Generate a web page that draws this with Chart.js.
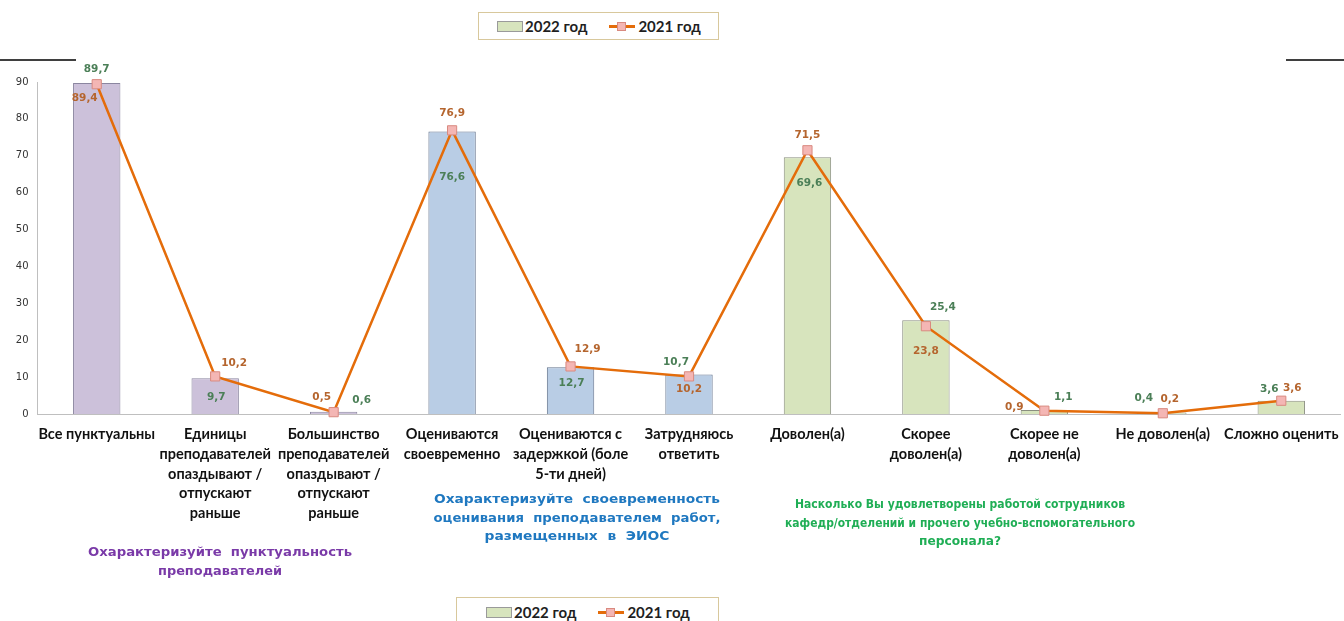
<!DOCTYPE html>
<html>
<head>
<meta charset="utf-8">
<script src="https://cdn.jsdelivr.net/npm/chart.js@4/dist/chart.umd.min.js"></script>
<style>
  html, body { margin: 0; padding: 0; background: #fff; overflow: hidden; }
  #wrap { position: relative; width: 1348px; height: 621px; }
  .legend {
    position: absolute; height: 28px; border: 1px solid #d8c89c; background: #fff;
    font: bold 15px Lato, "Open Sans", sans-serif; color: #1f1f1f;
    display: flex; align-items: center; box-sizing: border-box;
  }
  .sw { display: inline-block; width: 26px; height: 11px; background: #d7e4bd; border: 1px solid #9a9a9a; box-sizing: border-box; margin-right: 2px; }
  .ln { display: inline-block; position: relative; width: 26px; height: 11px; margin: 0 3px 0 22px; }
  .ln:before { content: ""; position: absolute; left: 0; right: 0; top: 4px; height: 3px; background: #e46c0a; }
  .ln:after { content: ""; position: absolute; left: 8px; top: 1px; width: 9px; height: 9px; background: #f4b6b4; border: 1px solid #d98a80; box-sizing: border-box; }
</style>
</head>
<body>
<div id="wrap">
  <canvas id="chart" width="1348" height="621"></canvas>
  <div class="legend" style="left:478px; top:12px; width:241px; padding-left:18px;">
    <span class="sw"></span>2022 год<span class="ln"></span>2021 год
  </div>
  <div class="legend" style="left:456px; top:597px; width:263px; height:30px; padding-left:29px;">
    <span class="sw"></span>2022 год<span class="ln"></span>2021 год
  </div>
</div>
<script>
const categories = [
    'Все пунктуальны',
    ['Единицы', 'преподавателей', 'опаздывают /', 'отпускают', 'раньше'],
    ['Большинство', 'преподавателей', 'опаздывают /', 'отпускают', 'раньше'],
    ['Оцениваются', 'своевременно'],
    ['Оцениваются с', 'задержкой (боле', '5-ти дней)'],
    ['Затрудняюсь', 'ответить'],
    'Доволен(а)',
    ['Скорее', 'доволен(а)'],
    ['Скорее не', 'доволен(а)'],
    'Не доволен(а)',
    'Сложно оценить'
];
const values2022 = [89.7, 9.7, 0.6, 76.6, 12.7, 10.7, 69.6, 25.4, 1.1, 0.4, 3.6];
const values2021 = [89.4, 10.2, 0.5, 76.9, 12.9, 10.2, 71.5, 23.8, 0.9, 0.2, 3.6];
const yTicks = [0, 10, 20, 30, 40, 50, 60, 70, 80, 90];

// group captions under the axis; w = width of each line in px
const groupTitles = [
    { lines: ['Охарактеризуйте  пунктуальность', 'преподавателей'], w: [264, 124], color: '#7a3aa8', x: 220, y: 553 },
    { lines: ['Охарактеризуйте  своевременность', 'оценивания  преподавателем  работ,', 'размещенных  в  ЭИОС'], w: [286, 287, 185], color: '#1f78c0', x: 577, y: 500 },
    { lines: ['Насколько Вы удовлетворены работой сотрудников', 'кафедр/отделений и прочего учебно-вспомогательного', 'персонала?'], w: [330, 350, 82], color: '#1fae55', x: 960, y: 505 }
];

// label offsets (px) relative to bar top / point
const barLabelOffsets = [[0, -14], [1, 19], [28, -12], [0, 46], [1, 16], [-13, -12], [2, 26], [17, -13], [19, -13], [-19, -14], [-12, -11]];
const lineLabelOffsets = [[-12, 14], [19, -13], [-12, -15], [0, -17], [17, -17], [0, 13], [0, -15], [0, 25], [-30, -3], [7, -14], [11, -12]];

const barFill = ['#ccc1da', '#ccc1da', '#ccc1da', '#b9cde5', '#b9cde5', '#b9cde5', '#d7e4bd', '#d7e4bd', '#d7e4bd', '#d7e4bd', '#d7e4bd'];
const barBorder = ['#8b86a0', '#8b86a0', '#8b86a0', '#66768f', '#66768f', '#66768f', '#8a8f80', '#8a8f80', '#8a8f80', '#8a8f80', '#8a8f80'];

const fmt = v => String(v).replace('.', ',');

const labelPlugin = {
    id: 'labels',
    afterDatasetsDraw(chart) {
        const ctx = chart.ctx;
        ctx.save();
        ctx.font = 'bold 10.5px "DejaVu Sans", Verdana, sans-serif';
        ctx.textAlign = 'center';
        ctx.textBaseline = 'middle';
        const bars = chart.getDatasetMeta(0).data;
        const pts = chart.getDatasetMeta(1).data;
        bars.forEach((el, i) => {
            ctx.fillStyle = '#4b7f57';
            ctx.fillText(fmt(values2022[i]), el.x + barLabelOffsets[i][0], el.y + barLabelOffsets[i][1]);
        });
        pts.forEach((el, i) => {
            ctx.fillStyle = '#b5652e';
            ctx.fillText(fmt(values2021[i]), el.x + lineLabelOffsets[i][0], el.y + lineLabelOffsets[i][1]);
        });
        ctx.restore();
    },
    afterDraw(chart) {
        const ctx = chart.ctx;
        ctx.save();
        ctx.strokeStyle = '#000';
        ctx.lineWidth = 1.5;
        ctx.beginPath();
        ctx.moveTo(0, 60); ctx.lineTo(76, 60);
        ctx.moveTo(1286, 60); ctx.lineTo(1348, 60);
        ctx.stroke();
        ctx.font = 'bold 12.5px "DejaVu Sans", Verdana, sans-serif';
        ctx.textAlign = 'center';
        ctx.textBaseline = 'middle';
        groupTitles.forEach(t => {
            ctx.fillStyle = t.color;
            t.lines.forEach((l, k) => {
                const sx = t.w[k] / ctx.measureText(l).width;
                ctx.save();
                ctx.translate(t.x, t.y + k * 18.5);
                ctx.scale(sx, 1);
                ctx.fillText(l, 0, 0);
                ctx.restore();
            });
        });
        ctx.restore();
    }
};

new Chart(document.getElementById('chart'), {
    type: 'bar',
    data: {
        labels: categories,
        datasets: [{
            type: 'bar',
            label: '2022 год',
            data: values2022,
            backgroundColor: barFill,
            borderColor: barBorder,
            borderWidth: 1,
            barPercentage: 0.4,
            categoryPercentage: 1,
            order: 1
        }, {
            type: 'line',
            label: '2021 год',
            data: values2021,
            borderColor: '#e46c0a',
            borderWidth: 2.5,
            pointStyle: 'rect',
            pointRadius: 6.5,
            pointBackgroundColor: '#f4b6b4',
            pointBorderColor: '#d98a80',
            pointBorderWidth: 1,
            tension: 0,
            clip: false,
            order: 0
        }]
    },
    options: {
        responsive: false,
        animation: false,
        layout: { padding: { top: 82, left: 0, right: 0, bottom: 0 } },
        plugins: { legend: { display: false }, tooltip: { enabled: false } },
        scales: {
            x: {
                grid: { display: false },
                border: { color: '#bfbfbf' },
                ticks: {
                    autoSkip: false, maxRotation: 0, minRotation: 0, padding: 3,
                    color: '#111',
                    font: { family: 'Lato, "Open Sans", sans-serif', size: 14.5, weight: 'bold', lineHeight: 1.35 }
                },
                afterFit(scale) { scale.height = 207; }
            },
            y: {
                min: 0, max: 90,
                grid: { display: false },
                border: { color: '#bfbfbf' },
                afterBuildTicks(scale) { scale.ticks = yTicks.map(v => ({ value: v })); },
                ticks: {
                    padding: 1, color: '#333',
                    font: { family: '"DejaVu Sans", sans-serif', size: 10 }
                },
                afterFit(scale) { scale.width = 37.5; }
            }
        }
    },
    plugins: [labelPlugin]
});
</script>
</body>
</html>
